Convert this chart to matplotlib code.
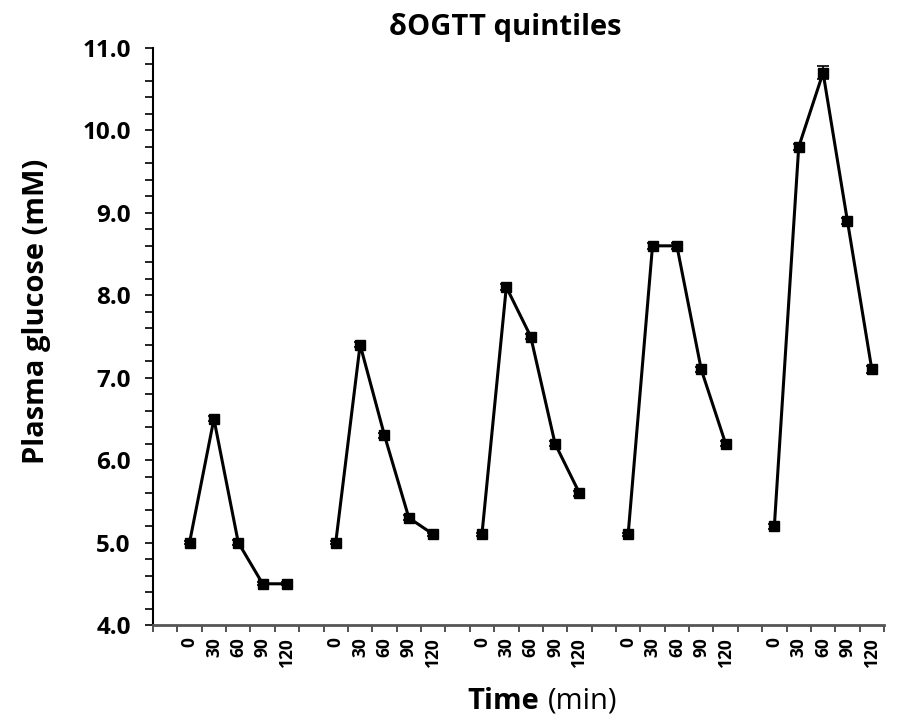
import matplotlib
matplotlib.use("Agg")
import matplotlib.pyplot as plt
from matplotlib.ticker import MultipleLocator, FixedLocator

plt.rcParams["font.family"] = ["Open Sans", "DejaVu Sans"]

# OGTT time points and mean plasma glucose per quintile
times = [0, 30, 60, 90, 120]
q1 = [5.0, 6.5, 5.0, 4.5, 4.5]
q2 = [5.0, 7.4, 6.3, 5.3, 5.1]
q3 = [5.1, 8.1, 7.5, 6.2, 5.6]
q4 = [5.1, 8.6, 8.6, 7.1, 6.2]
q5 = [5.2, 9.8, 10.7, 8.9, 7.1]
err1 = [0.02, 0.03, 0.03, 0.02, 0.02]
err2 = [0.02, 0.03, 0.03, 0.03, 0.02]
err3 = [0.02, 0.04, 0.03, 0.03, 0.03]
err4 = [0.02, 0.04, 0.04, 0.03, 0.03]
err5 = [0.03, 0.04, 0.08, 0.04, 0.04]
groups = [q1, q2, q3, q4, q5]
errs = [err1, err2, err3, err4, err5]

fig = plt.figure(figsize=(9.09, 7.26), dpi=100)
ax = fig.add_axes([153 / 909, 1 - 625 / 726, 731 / 909, 577 / 726])

# one blank slot before each group of five time points
slot = len(times) + 1
centers, labels = [], []
for g, (vals, e) in enumerate(zip(groups, errs)):
    xs = [1 + g * slot + i for i in range(len(times))]
    centers += xs
    labels += [str(t) for t in times]
    ax.errorbar(xs, vals, yerr=e, color="black", lw=2.2, marker="s", ms=7.5,
                capsize=4, elinewidth=1.2, capthick=1.2)

n_slots = slot * len(groups)
ax.set_xlim(-0.5, n_slots - 0.5)
ax.set_ylim(4.0, 11.0)

ax.xaxis.set_major_locator(FixedLocator([i - 0.5 for i in range(n_slots + 1)]))
ax.xaxis.set_minor_locator(FixedLocator(centers))
ax.xaxis.set_minor_formatter(matplotlib.ticker.FixedFormatter(labels))
ax.xaxis.set_major_formatter(matplotlib.ticker.NullFormatter())
ax.tick_params(axis="x", which="major", direction="out", length=5, width=1.2, color="#333333")
ax.tick_params(axis="x", which="minor", length=0, pad=9, labelrotation=90, labelsize=12.5)
for lab in ax.get_xticklabels(minor=True):
    lab.set_fontweight("bold")

ax.yaxis.set_major_locator(MultipleLocator(1.0))
ax.yaxis.set_minor_locator(MultipleLocator(0.2))
ax.yaxis.set_major_formatter(matplotlib.ticker.FormatStrFormatter("%.1f"))
ax.tick_params(axis="y", which="both", direction="out", length=6, width=1.2, labelsize=17.5, pad=10)
for lab in ax.get_yticklabels():
    lab.set_fontweight("bold")

for s in ["top", "right"]:
    ax.spines[s].set_visible(False)
ax.spines["left"].set_linewidth(1.5)
ax.spines["bottom"].set_linewidth(2)
ax.spines["bottom"].set_color("#555555")

fig.text(505 / 909, 1 - 27 / 726, "δOGTT quintiles", fontsize=21, fontweight="bold",
         ha="center", va="center")
fig.text(37 / 909, 1 - 311 / 726, "Plasma glucose (mM)", fontsize=21, fontweight="bold",
         rotation=90, ha="center", va="center")
fig.text(0.593, 0.034, "Time", fontsize=21, fontweight="bold", ha="right", va="center")
fig.text(0.603, 0.034, "(min)", fontsize=21, ha="left", va="center")

fig.savefig("out.png", dpi=100)
